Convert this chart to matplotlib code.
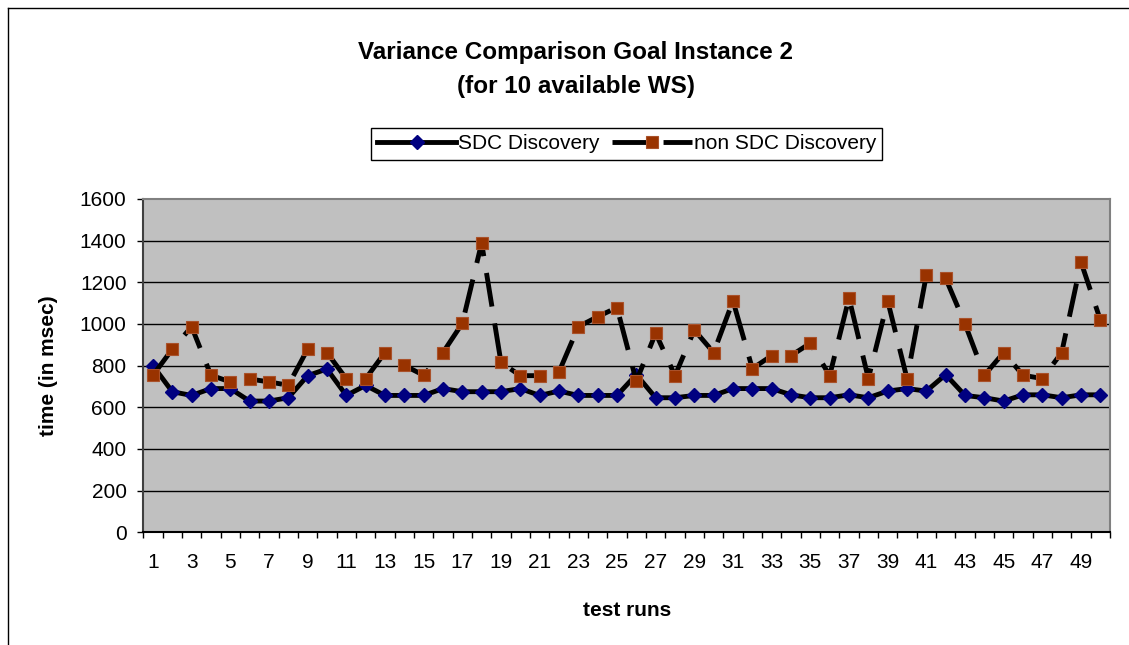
import numpy as np
import matplotlib
matplotlib.use("Agg")
import matplotlib.pyplot as plt
from matplotlib.lines import Line2D

plt.rcParams['font.family'] = ['Liberation Sans', 'DejaVu Sans']

# data
runs = np.arange(1, 51)
sdc = [800, 675, 657, 690, 690, 630, 630, 646, 752, 784,
       657, 705, 657, 657, 657, 690, 675, 675, 675, 690,
       657, 678, 657, 657, 657, 757, 646, 646, 657, 657,
       690, 690, 690, 660, 646, 646, 660, 646, 678, 690,
       678, 757, 657, 646, 630, 660, 660, 646, 660, 660]
non_sdc = [754, 879, 987, 754, 722, 736, 722, 706, 879, 863,
           737, 737, 863, 801, 754, 863, 1003, 1389, 816, 752,
           752, 770, 987, 1035, 1079, 725, 956, 752, 971, 863,
           1111, 786, 848, 848, 908, 752, 1125, 738, 1111, 738,
           1235, 1219, 1000, 754, 863, 754, 738, 863, 1297, 1019]
yticks = [0, 200, 400, 600, 800, 1000, 1200, 1400, 1600]
xlabels = [str(i) for i in range(1, 50, 2)]

fig = plt.figure(figsize=(11.29, 6.45), dpi=100)
ax = fig.add_axes([0.1269, 0.1747, 0.8563, 0.5168])
ax.set_facecolor('#C0C0C0')

# chart area frame (top / left visible)
fig.add_artist(Line2D([8/1129, 8/1129], [0, 1 - 8/645], color='black', lw=1, transform=fig.transFigure))
fig.add_artist(Line2D([8/1129, 1], [1 - 8/645, 1 - 8/645], color='black', lw=1, transform=fig.transFigure))

for v in yticks[1:-1]:
    ax.axhline(v, color='black', lw=1, zorder=1)

ax.plot(runs, sdc, color='black', lw=3.5, marker='D', ms=7,
        mfc='#000080', mec='#000080', zorder=3, label='SDC Discovery')
ax.plot(runs, non_sdc, color='black', lw=3.5, dashes=(7, 3.5), marker='s', ms=8,
        mfc='#993300', mec='#A9512A', mew=0.8, zorder=4, label='non SDC Discovery')

ax.set_xlim(0.5, 50.5)
ax.set_ylim(0, 1600)
ax.set_yticks(yticks)
ax.set_xticks(np.arange(0.5, 51, 1))
ax.set_xticklabels([])
ax.set_xticks(np.arange(1, 50, 2), minor=True)
ax.set_xticklabels(xlabels, minor=True)
ax.tick_params(axis='x', which='major', length=4.5, width=1, direction='out')
ax.tick_params(axis='x', which='minor', length=0, pad=15, labelsize=15)
ax.tick_params(axis='y', length=4, width=1, pad=8, labelsize=15)

for s in ['top', 'right']:
    ax.spines[s].set_color('#808080')
    ax.spines[s].set_linewidth(1.5)
ax.spines['left'].set_color('#404040')
ax.spines['left'].set_linewidth(1.5)
ax.spines['bottom'].set_color('black')
ax.spines['bottom'].set_linewidth(1.5)

ax.set_xlabel('test runs', fontsize=15, fontweight='bold')
ax.set_ylabel('time (in msec)', fontsize=15, fontweight='bold')
ax.xaxis.set_label_coords(0.5, -0.206)
ax.yaxis.set_label_coords(-0.0882, 0.5)

fig.text(576/1129, 1 - 52/645, 'Variance Comparison Goal Instance 2', fontsize=17.5,
         fontweight='bold', ha='center', va='center')
fig.text(576/1129, 1 - 86/645, '(for 10 available WS)', fontsize=17.5,
         fontweight='bold', ha='center', va='center')

leg = ax.legend(loc='center', bbox_to_anchor=(0.5, 1.165), ncol=2, fontsize=15,
                frameon=True, fancybox=False, edgecolor='black', framealpha=1,
                handlelength=3.8, handletextpad=0.1, columnspacing=0.6,
                borderpad=0.3, borderaxespad=0)
leg.get_frame().set_linewidth(1)

fig.savefig('out.png', dpi=100)
